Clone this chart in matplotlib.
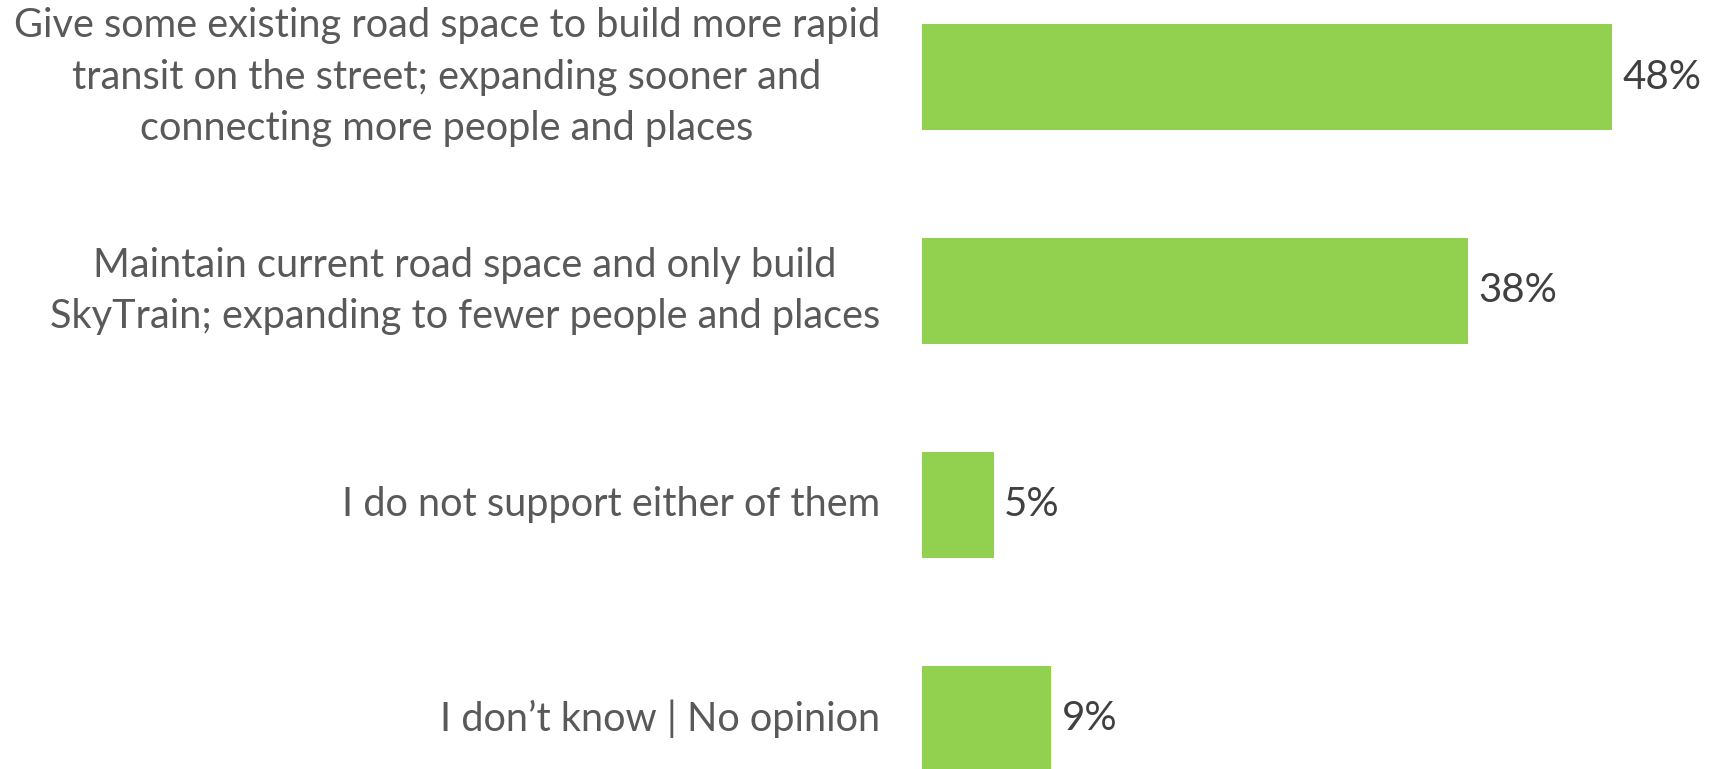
import matplotlib
matplotlib.use("Agg")
import matplotlib.pyplot as plt

# Ответы на вопрос и доли в процентах
categories = [
    "Give some existing road space to build more rapid\ntransit on the street; expanding sooner and\nconnecting more people and places",
    "Maintain current road space and only build\nSkyTrain; expanding to fewer people and places",
    "I do not support either of them",
    "I don\u2019t know | No opinion",
]
values = [48, 38, 5, 9]
value_labels = ["48%", "38%", "5%", "9%"]

bar_color = "#92D050"
text_color = "#595959"

plt.rcParams["font.family"] = ["Lato", "DejaVu Sans"]

fig = plt.figure(figsize=(17.11, 7.69), dpi=100)
ax = fig.add_axes([922 / 1711, 0, 690 / 1711, 1])

pos = list(range(len(values)))
ax.barh(pos, values, height=0.495, color=bar_color)
ax.set_xlim(0, 48)
ax.set_ylim(3.234, -0.36)

# подписи значений справа от столбцов
for p, v, lab in zip(pos, values, value_labels):
    ax.annotate(lab, (v, p), xytext=(10, 0), textcoords="offset pixels",
                ha="left", va="center", fontsize=29, color="#404040",
                annotation_clip=False)

# подписи категорий слева
for p, cat in zip(pos, categories):
    ax.annotate(cat, (0, p), xytext=(-42, 0), textcoords="offset pixels",
                ha="right", va="center", multialignment="center",
                fontsize=28.6, color=text_color, linespacing=1.47,
                annotation_clip=False)

ax.axis("off")
fig.savefig("out.png", dpi=100)
